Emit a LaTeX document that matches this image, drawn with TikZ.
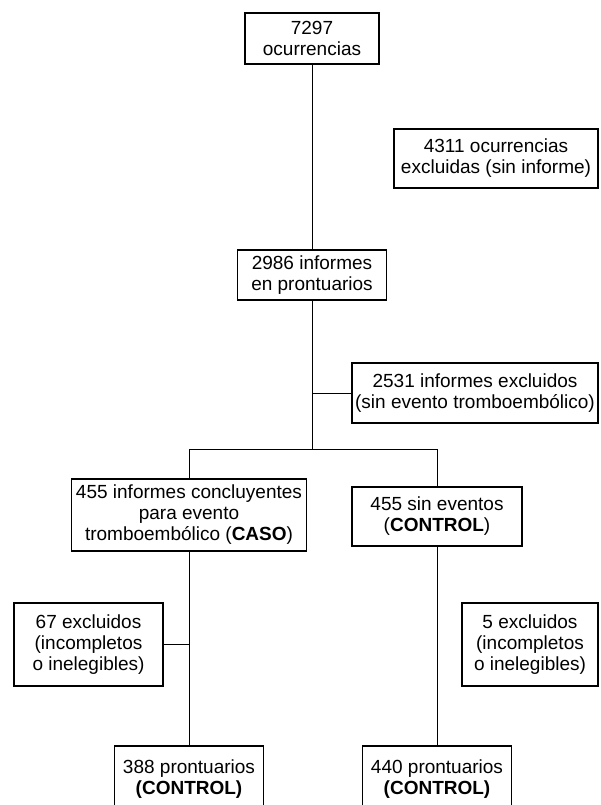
\documentclass[tikz,border=0pt]{standalone}
\usepackage{fontspec}
\setmainfont{Liberation Sans}
\begin{document}
\begin{tikzpicture}[x=1pt,y=-1pt,
  box/.style={draw,line width=1.2pt,align=center,inner sep=0pt,font=\fontsize{19}{21}\selectfont},
  conn/.style={line width=1pt}]
\useasboundingbox (0,0) rectangle (600,805);
\node[box,minimum width=134pt,minimum height=51pt] (a) at (312,38.5) {7297\\ocurrencias};
\node[box,minimum width=204pt,minimum height=59pt] (b) at (496,158.5) {4311 ocurrencias\\excluidas (sin informe)};
\node[box,minimum width=149pt,minimum height=50pt] (c) at (312,275) {2986 informes\\en prontuarios};
\node[box,minimum width=246pt,minimum height=60pt] (d) at (475,393) {2531 informes excluidos\\(sin evento tromboembólico)};
\node[box,minimum width=235pt,minimum height=72pt] (e) at (189,515) {455 informes concluyentes\\para evento\\tromboembólico (\textbf{CASO})};
\node[box,minimum width=170pt,minimum height=59pt] (f) at (437,516.5) {455 sin eventos\\(\textbf{CONTROL})};
\node[box,minimum width=149pt,minimum height=83pt] (g) at (88.5,644.5) {67 excluidos\\(incompletos\\o inelegibles)};
\node[box,minimum width=136pt,minimum height=83pt] (h) at (530,644.5) {5 excluidos\\(incompletos\\o inelegibles)};
\node[box,minimum width=149pt,minimum height=66pt] (i) at (189,779) {388 prontuarios\\\textbf{(CONTROL)}};
\node[box,minimum width=149pt,minimum height=66pt] (j) at (437,779) {440 prontuarios\\\textbf{(CONTROL)}};
\coordinate (jm) at (312,449);
\coordinate (jl) at (189,449);
\coordinate (jr) at (437,449);
\draw[conn] (a.south) -- (c.north);
\draw[conn] (c.south) -- (jm);
\draw[conn] (d.west) -- (d.west -| c.south);
\draw[conn] (jl) -- (jr);
\draw[conn] (jl) -- (e.north);
\draw[conn] (jr) -- (f.north);
\draw[conn] (e.south) -- (i.north);
\draw[conn] (g.east) -- (g.east -| e.south);
\draw[conn] (f.south) -- (j.north);
\end{tikzpicture}
\end{document}
